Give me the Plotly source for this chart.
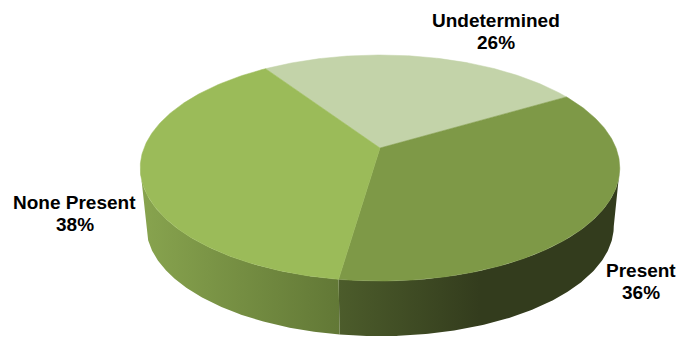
import numpy as np
import plotly.graph_objects as go

# Data
categories = ["Undetermined", "Present", "None Present"]
values = [25.9, 35.8, 38.3]

# Styling
top_colors = ["#C3D3A9", "#7E9947", "#9BBB59"]
side_gradients = {
    "Present": (["#4C5C2B", "#333C1D"], 339, 480),
    "None Present": (["#87A34E", "#627836"], 145, 339),
}
# label centre x, first-line y, second-line y
label_pos = {"Undetermined": (495.5, 20, 42), "Present": (641, 270, 292), "None Present": (74.5, 202, 224)}

# Perspective pie geometry (in screen pixels)
START = 123.8
CX = 380
APEX_TOP = 148
F, G, K = 236.0, 109.5, 0.177
APEX_BOTTOM, SCALE_BOTTOM = 206.5, 0.975
SIL = np.degrees(np.arcsin(K))  # silhouette angle


def project(deg, apex=APEX_TOP, s=1.0):
    t = np.radians(deg)
    X, Y = np.cos(t), np.sin(t)
    d = 1 + K * Y
    return CX + s * F * X / d, apex - s * G * Y / d


fig = go.Figure()

# slice angle spans, clockwise
edges = START - np.cumsum([0] + values) * 3.6
spans = {c: (edges[i], edges[i + 1]) for i, c in enumerate(categories)}

# side walls
for name, (cols, start, stop) in side_gradients.items():
    a, b = spans[name]
    a_vis = min(a, -SIL)
    b_vis = max(b, -180 + SIL)
    th = np.linspace(a_vis, b_vis, 160)
    xt, yt = project(th)
    xb, yb = project(th, APEX_BOTTOM, SCALE_BOTTOM)
    xs = np.r_[xt, xb[::-1], xt[0]]
    ys = np.r_[yt, yb[::-1], yt[0]]
    scale = [[i / (len(cols) - 1), c] for i, c in enumerate(cols)]
    fig.add_trace(go.Scatter(
        x=xs, y=ys, mode="lines", line=dict(width=0), fill="toself",
        fillgradient=dict(type="horizontal", colorscale=scale, start=start, stop=stop),
        hoverinfo="skip", showlegend=False))

# top faces
for name, col in zip(categories, top_colors):
    a, b = spans[name]
    th = np.linspace(a, b, 200)
    x, y = project(th)
    xs = np.r_[CX, x, CX]
    ys = np.r_[APEX_TOP, y, APEX_TOP]
    fig.add_trace(go.Scatter(
        x=xs, y=ys, mode="lines", line=dict(width=0.5, color=col), fill="toself",
        fillcolor=col, hoverinfo="skip", showlegend=False))

annotations = []
for name, v in zip(categories, values):
    px, y1, y2 = label_pos[name]
    for txt, py in ((name, y1), (f"{v:.0f}%", y2)):
        annotations.append(dict(x=px, y=py, text=f"<b>{txt}</b>", showarrow=False,
                                xanchor="center", yanchor="middle", align="center",
                                font=dict(family="Liberation Sans", size=19, color="#000000")))

fig.update_layout(
    width=691, height=339, autosize=False,
    margin=dict(l=0, r=0, t=0, b=0),
    paper_bgcolor="white", plot_bgcolor="white",
    xaxis=dict(range=[0, 691], visible=False, fixedrange=True),
    yaxis=dict(range=[339, 0], visible=False, fixedrange=True),
    annotations=annotations,
)
fig.write_html("out.html", config={"displayModeBar": False},
               post_script="document.body.style.margin='0';")
